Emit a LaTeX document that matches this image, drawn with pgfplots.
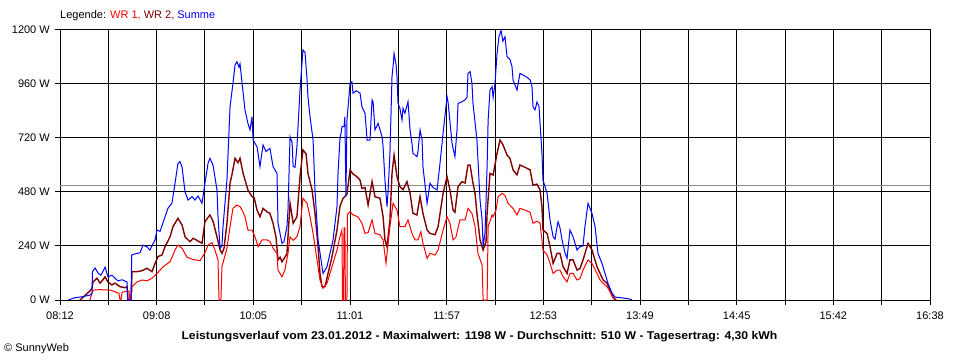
\documentclass[border=0pt]{standalone}
\usepackage{fontspec}
\setmainfont{Liberation Sans}
\usepackage{pgfplots}
\pgfplotsset{compat=1.18}
\definecolor{wrone}{RGB}{255,0,0}
\definecolor{wrtwo}{RGB}{128,0,0}
\definecolor{summe}{RGB}{0,0,255}
\definecolor{avg}{RGB}{140,140,140}
\begin{document}
\begin{tikzpicture}
\useasboundingbox (0,0) rectangle (960bp,360bp);
\begin{axis}[
  at={(60bp,60bp)}, anchor=south west,
  scale only axis, width=870bp, height=270bp,
  xmin=492, xmax=998, ymin=0, ymax=1200,
  xtick={492,548.22,604.44,660.67,716.89,773.11,829.33,885.56,941.78,998},
  xticklabels={08:12,09:08,10:05,11:01,11:57,12:53,13:49,14:45,15:42,16:38},
  minor xtick={520.11,576.33,632.56,688.78,745.0,801.22,857.44,913.67,969.89},
  ytick={0,240,480,720,960,1200},
  yticklabels={0 W,240 W,480 W,720 W,960 W,1200 W},
  grid=both,
  major grid style={black, line width=1bp},
  minor grid style={black, line width=1bp},
  axis line style={black, line width=1bp},
  tick align=outside,
  major tick length=5bp, minor tick length=5bp,
  every tick/.style={black, line width=1bp},
  xtick pos=lower, ytick pos=left,
  tick label style={font=\fontsize{11bp}{13bp}\selectfont, inner sep=0pt},
  xticklabel style={anchor=north, yshift=-7bp},
  yticklabel style={anchor=east, xshift=-5bp},
  clip=false,
]
\addplot[avg, line width=1bp] coordinates {(492,510) (998,510)};
\addplot[wrtwo, line width=1.4bp] coordinates {
(503.6,0) (506.5,20) (509.4,40) (510.6,52) (511.2,80) (513.5,97) (515.3,75) (517.0,90) (518.2,103) (519.9,80) (522.2,67) (524.0,75) (526.9,59) (529.8,55) (531.0,60) (531.5,0) (533.3,0) (533.9,126) (536.8,126) (539.7,130) (542.6,141) (545.5,126) (547.3,163) (549.0,193) (551.3,200) (553.1,237) (556.0,281) (557.7,326) (560.6,363) (563.0,333) (564.7,281) (567.6,259) (569.4,274) (571.7,265) (574.6,252) (576.3,348) (579.2,378) (581.0,350) (583.3,281) (585.1,222) (586.2,207) (587.4,230) (589.1,341) (590.9,519) (592.1,560) (593.8,630) (595.5,610) (596.7,630) (598.5,563) (601.3,489) (603.7,459) (604.9,455) (606.6,400) (608.3,370) (610.1,407) (612.4,392) (614.1,385) (615.9,341) (617.6,281) (618.8,178) (620.0,190) (621.1,170) (622.8,190) (624.0,207) (625.8,430) (627.6,341) (629.8,370) (631.6,548) (633.3,667) (635.1,650) (636.2,563) (638.6,489) (640.3,385) (642.1,237) (643.2,118) (644.4,59) (646.1,59) (647.9,118) (650.2,193) (653.1,311) (654.8,415) (656.6,452) (658.9,470) (660.7,578) (662.4,560) (664.7,548) (666.5,533) (667.6,496) (669.4,500) (671.2,422) (673.5,526) (675.2,459) (678.1,452) (679.9,370) (681.0,267) (682.2,237) (683.9,356) (685.1,563) (686.3,644) (688.0,548) (689.7,504) (691.5,490) (693.8,526) (695.6,474) (697.3,385) (699.6,378) (701.4,459) (703.1,385) (705.5,311) (707.2,296) (710.1,290) (711.9,326) (714.8,474) (717.1,548) (718.8,489) (720.6,400) (721.7,390) (723.5,504) (725.8,526) (727.6,520) (729.3,600) (730.5,600) (732.2,519) (733.4,474) (734.5,385) (736.3,267) (737.5,237) (738.1,222) (739.8,260) (740.4,385) (742.1,563) (743.9,555) (746.2,652) (747.9,711) (749.6,690) (752.0,644) (753.7,630) (755.5,578) (757.8,556) (759.5,600) (762.4,590) (765.4,578) (767.1,511) (769.4,515) (771.2,489) (772.3,415) (772.9,311) (775.3,296) (777.0,237) (778.8,163) (781.1,207) (782.8,207) (784.6,148) (786.9,118) (788.6,178) (790.4,178) (792.7,133) (794.4,140) (796.2,178) (799.1,252) (801.4,222) (804.3,148) (806.1,118) (807.9,89) (810.2,74) (811.9,44) (813.6,13) (815.4,0)
};
\addplot[wrone, line width=1bp] coordinates {
(509.4,0) (511.2,44) (515.3,46) (521.1,44) (524.0,37) (525.7,30) (526.3,30) (526.9,0) (527.5,0) (528.1,35) (529.8,37) (532.1,40) (532.7,0) (533.3,0) (533.9,59) (536.8,80) (539.7,89) (542.6,85) (545.5,97) (548.4,118) (552.0,148) (556.0,170) (558.9,222) (560.6,244) (563.0,230) (565.9,190) (569.4,180) (573.4,175) (576.3,210) (578.1,244) (580.4,255) (582.1,222) (583.9,178) (584.5,0) (585.6,0) (586.2,148) (589.1,230) (590.9,326) (592.6,407) (594.9,422) (596.7,415) (597.9,400) (599.6,370) (601.3,311) (603.7,311) (605.4,281) (607.2,237) (609.5,267) (612.4,267) (614.1,260) (615.9,230) (618.2,207) (618.8,133) (621.1,103) (622.8,133) (624.6,207) (625.8,281) (627.6,265) (629.8,281) (631.6,326) (633.3,452) (635.7,430) (637.4,370) (639.2,296) (641.5,178) (643.2,89) (645.0,52) (647.3,74) (649.0,118) (650.8,163) (653.1,222) (654.8,281) (656.0,311) (656.3,0) (656.9,0) (657.2,320) (657.7,320) (658.0,0) (658.9,0) (659.2,380) (660.7,393) (662.4,378) (665.3,370) (667.6,341) (669.4,296) (671.2,300) (673.5,356) (675.2,296) (678.1,290) (679.9,267) (681.6,163) (682.8,250) (683.9,326) (685.7,430) (688.0,400) (689.7,326) (692.6,326) (694.4,356) (696.7,296) (698.5,267) (700.2,267) (701.9,304) (703.1,252) (705.5,185) (707.2,207) (710.1,200) (711.9,222) (714.8,311) (717.1,370) (718.8,341) (720.6,267) (722.3,280) (724.6,356) (727.6,356) (729.3,407) (731.6,385) (733.4,326) (735.1,207) (737.5,155) (738.1,0) (740.4,0) (741.0,326) (743.3,378) (743.9,370) (745.6,400) (746.8,459) (749.1,474) (750.8,465) (752.6,430) (755.5,407) (757.8,378) (759.5,407) (762.4,400) (765.4,390) (767.1,341) (769.4,350) (771.2,341) (772.3,267) (772.9,222) (775.3,200) (777.0,163) (778.8,118) (781.1,133) (782.8,133) (784.6,103) (786.9,81) (788.6,118) (790.4,118) (792.7,89) (794.4,95) (796.2,133) (799.1,178) (801.4,163) (804.3,118) (806.1,89) (807.9,74) (810.2,59) (811.9,37) (813.6,9) (814.8,0)
};
\addplot[summe, line width=1bp] coordinates {
(496.7,0) (500.7,10) (505.4,15) (509.4,22) (510.6,30) (510.9,126) (512.4,142) (514.1,120) (515.8,110) (518.2,146) (519.9,103) (522.2,110) (524.0,97) (525.7,85) (528.1,90) (531.0,80) (531.5,0) (533.3,0) (533.7,200) (535.6,205) (538.5,210) (540.3,244) (542.6,236) (544.3,222) (546.1,250) (547.3,267) (548.4,311) (550.2,305) (553.1,370) (554.8,408) (557.1,430) (558.9,519) (560.6,607) (561.8,615) (563.0,590) (564.7,481) (566.5,444) (568.8,460) (570.5,444) (572.3,462) (574.6,430) (576.3,519) (578.1,607) (579.2,630) (581.0,600) (583.3,489) (583.9,370) (585.1,230) (586.2,240) (586.8,326) (589.1,533) (590.9,859) (592.6,963) (593.8,1044) (594.9,1059) (596.1,1035) (596.7,1050) (597.9,963) (599.6,844) (601.3,785) (602.5,756) (603.7,815) (604.3,711) (606.6,681) (608.3,593) (610.1,689) (611.8,660) (614.1,674) (615.9,593) (618.2,563) (618.8,341) (621.1,252) (622.3,260) (624.0,326) (624.6,400) (625.8,726) (627.0,700) (627.6,593) (628.7,590) (629.8,681) (631.6,933) (633.3,1111) (634.5,1100) (635.7,978) (636.2,904) (637.4,815) (639.2,711) (640.3,489) (642.1,267) (644.4,148) (645.0,118) (647.3,148) (649.0,207) (650.8,267) (653.1,415) (653.7,563) (654.8,711) (656.0,770) (657.2,770) (657.7,815) (658.3,459) (658.9,800) (660.7,963) (661.8,970) (662.4,919) (664.2,930) (666.5,920) (667.6,859) (669.4,830) (670.6,711) (672.3,711) (673.5,889) (674.1,880) (675.2,756) (677.0,785) (679.3,726) (679.9,681) (681.0,533) (682.2,415) (682.8,480) (683.9,652) (685.1,993) (685.7,1037) (686.3,1096) (687.4,1050) (688.0,993) (688.6,874) (689.7,852) (690.9,800) (691.5,852) (692.6,830) (694.4,881) (695.6,756) (696.7,696) (697.3,652) (699.6,637) (700.2,660) (701.4,756) (702.6,711) (703.1,593) (705.5,430) (707.2,519) (708.9,500) (711.3,489) (713.0,607) (714.8,741) (717.1,904) (717.7,880) (720.0,696) (721.7,637) (722.9,756) (723.5,874) (725.8,881) (727.6,890) (728.7,900) (729.3,1007) (730.5,1015) (731.6,963) (732.2,874) (734.5,711) (736.3,444) (737.5,356) (738.1,237) (739.2,300) (740.4,593) (741.0,800) (742.1,933) (743.3,948) (743.9,900) (745.0,963) (746.2,1096) (747.3,1170) (748.5,1198) (749.6,1150) (750.8,1170) (752.0,1081) (753.7,1070) (754.9,1037) (755.5,978) (757.8,933) (759.5,1007) (761.3,1000) (763.6,990) (765.4,978) (766.5,950) (767.1,859) (768.3,845) (769.4,880) (770.6,860) (771.2,785) (772.3,652) (772.9,533) (774.1,504) (775.3,474) (777.0,356) (778.8,281) (779.9,270) (781.1,326) (781.7,348) (782.8,320) (784.0,267) (785.8,207) (786.9,185) (788.6,311) (790.4,281) (792.7,222) (794.4,237) (796.2,240) (797.3,326) (799.1,430) (801.4,385) (803.2,326) (804.9,207) (807.2,163) (809.0,118) (810.7,74) (813.1,30) (814.8,13) (819.4,9) (823.5,4) (824.7,0)
};
\end{axis}
\node[anchor=west, inner sep=0pt, font=\fontsize{11bp}{13bp}\selectfont] at (60bp,344bp) {Legende: \textcolor{wrone}{WR 1,} \textcolor{wrtwo}{WR 2,} \textcolor{summe}{Summe}};
\node[inner sep=0pt, font=\fontsize{11.3bp}{13bp}\selectfont\bfseries] at (479.5bp,23.3bp) {\scalebox{1.08}[1]{Leistungsverlauf vom 23.01.2012 - Maximalwert: 1198 W - Durchschnitt: 510 W - Tagesertrag: 4,30 kWh}};
\node[anchor=west, inner sep=0pt, font=\fontsize{11bp}{13bp}\selectfont] at (4bp,11bp) {\textcopyright{} SunnyWeb};
\end{tikzpicture}
\end{document}
